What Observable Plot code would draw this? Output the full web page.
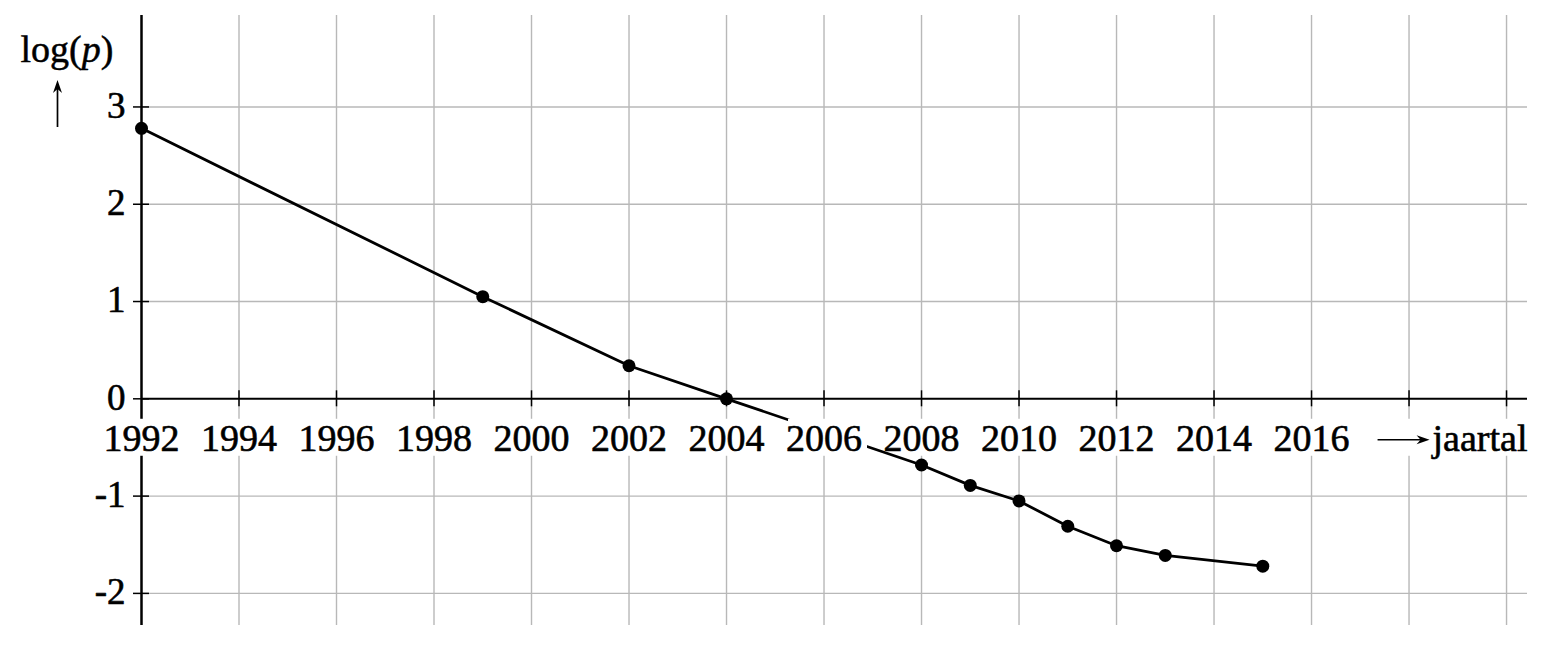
<!DOCTYPE html>
<html>
<head>
<meta charset="utf-8">
<script src="https://cdn.jsdelivr.net/npm/d3@7"></script>
<script src="https://cdn.jsdelivr.net/npm/@observablehq/plot@0.6"></script>
<style>
  html, body { margin: 0; padding: 0; background: #fff; }
  #chart svg { display: block; }
</style>
</head>
<body>
<div id="chart"></div>
<script>
// ---- data ----
const years = [1992, 1999, 2002, 2004, 2008, 2009, 2010, 2011, 2012, 2013, 2015];
const logP  = [2.78, 1.05, 0.34, 0.00, -0.68, -0.89, -1.05, -1.31, -1.51, -1.61, -1.72];

// ---- axis / grid definitions ----
const xGridYears  = [1994, 1996, 1998, 2000, 2002, 2004, 2006, 2008, 2010, 2012, 2014, 2016, 2018, 2020];
const xTickYears  = [1994, 1996, 1998, 2000, 2002, 2004, 2006, 2008, 2010, 2012, 2014, 2016, 2018, 2020];
const xLabelYears = [1992, 1994, 1996, 1998, 2000, 2002, 2004, 2006, 2008, 2010, 2012, 2014, 2016];
const yTicks      = [-2, -1, 0, 1, 2, 3];
const yTickLabels = ["-2", "-1", "0", "1", "2", "3"];
const yGrid       = [-2, -1, 1, 2, 3];
const xDomain     = [1992, 2020.43];
const yDomain     = [-2.33, 3.94];
const yLabel      = "log(p)";
const xLabel      = "jaartal";

const data = years.map((x, i) => ({ x, y: logP[i] }));
const FONT = "'Liberation Serif', 'Times New Roman', Times, serif";
const FS_X = 38;

const plot = Plot.plot({
  width: 1553,
  height: 646,
  marginLeft: 141,
  marginRight: 26,
  marginTop: 15,
  marginBottom: 21,
  x: { domain: xDomain, axis: null },
  y: { domain: yDomain, axis: null },
  style: { fontFamily: FONT, background: "#fff", color: "#000" },
  marks: [
    // grid
    Plot.ruleX(xGridYears, { stroke: "#b8b8b8", strokeWidth: 1.4 }),
    Plot.ruleY(yGrid, { x1: xDomain[0], x2: xDomain[1], stroke: "#b8b8b8", strokeWidth: 1.4 }),
    // axes
    Plot.ruleY([0], { x1: xDomain[0], x2: xDomain[1], stroke: "#000", strokeWidth: 2 }),
    Plot.ruleX([xDomain[0]], { stroke: "#000", strokeWidth: 2.5 }),
    // ticks crossing the axes
    Plot.ruleX(xTickYears, { y1: 0, y2: 0, insetTop: -8, insetBottom: -8, stroke: "#000", strokeWidth: 1.5 }),
    Plot.ruleY(yTicks, { x1: xDomain[0], x2: xDomain[0], insetLeft: -8, insetRight: -8, stroke: "#000", strokeWidth: 1.5 }),
    // data line
    Plot.line(data, { x: "x", y: "y", stroke: "#000", strokeWidth: 2.8 }),
    // x tick labels (white boxes added after render)
    Plot.text(xLabelYears, { x: d => d, y: 0, text: d => String(d), dy: 40, fontSize: FS_X, fill: "#000", stroke: "#000", strokeWidth: 0.6, className: "xlab" }),
    Plot.text([xLabel], { x: xDomain[1], y: 0, text: d => d, textAnchor: "end", dy: 40, fontSize: FS_X, fill: "#000", stroke: "#000", strokeWidth: 0.6, className: "xlab" }),
    // y tick labels
    Plot.text(yTicks, { x: xDomain[0], y: d => d, text: (d, i) => yTickLabels[i], textAnchor: "end", dx: -16, dy: -1, fontSize: 37, fill: "#000", stroke: "#000", strokeWidth: 0.6 }),
    // y axis title
    Plot.text([yLabel], { frameAnchor: "top-left", text: d => d, textAnchor: "start", lineAnchor: "bottom", dx: -121, dy: 46, fontSize: 38, fill: "#000", stroke: "#000", strokeWidth: 0.5, className: "ylab" }),
    // points
    Plot.dot(data, { x: "x", y: "y", r: 6.5, fill: "#000", stroke: "none" })
  ]
});

document.getElementById("chart").appendChild(plot);

// ---- post-render decorations ----
const NS = "http://www.w3.org/2000/svg";
const sr = plot.getBoundingClientRect();
const arrows = [];
const lineGroup = plot.querySelector('g[aria-label="line"]');
const gridCut = document.createElementNS(NS, "g");   // breaks the grid lines behind the labels
lineGroup.parentNode.insertBefore(gridCut, lineGroup);

function addRect(parent, x0, y0, x1, y1) {
  const rect = document.createElementNS(NS, "rect");
  rect.setAttribute("x", x0);
  rect.setAttribute("y", y0);
  rect.setAttribute("width", x1 - x0);
  rect.setAttribute("height", y1 - y0);
  rect.setAttribute("fill", "#fff");
  parent.appendChild(rect);
}

plot.querySelectorAll("g.xlab").forEach(g => {
  const tight = document.createElementNS(NS, "g");  // knocks out the data line behind the glyphs
  g.parentNode.insertBefore(tight, g);
  g.querySelectorAll("text").forEach(t => {
    const r = t.getBoundingClientRect();
    const isTitle = t.textContent === xLabel;
    const baseline = r.bottom - sr.top - 0.216 * FS_X;
    const l = r.left - sr.left, rr = r.right - sr.left;
    addRect(gridCut, l - 3 - (isTitle ? 58 : 0), baseline - 31, rr + 3, baseline + 5);
    addRect(tight, l + 2 - (isTitle ? 58 : 0), baseline - 32, rr + 5, baseline + 0.5);
    if (isTitle) {
      const tipX = l - 1;
      const ay = baseline - 11;
      arrows.push({ x1: tipX - 52, y1: ay, x2: tipX, y2: ay });
    }
  });
});

// italic p in the y title
plot.querySelectorAll("g.ylab text").forEach(t => {
  const s = t.textContent;
  const m = s.match(/^(.*\()(.*)(\).*)$/);
  if (!m) return;
  t.textContent = "";
  [[m[1], false], [m[2], true], [m[3], false]].forEach(([part, it]) => {
    const ts = document.createElementNS(NS, "tspan");
    ts.textContent = part;
    if (it) ts.setAttribute("font-style", "italic");
    t.appendChild(ts);
  });
  const r = t.getBoundingClientRect();
  const ax = r.left - sr.left + 37;
  arrows.push({ x1: ax, y1: 127, x2: ax, y2: 80 });
});

const ag = d3.select(plot).append("g").attr("stroke", "#000").attr("fill", "#000");
arrows.forEach(a => {
  const dx = a.x2 - a.x1, dy = a.y2 - a.y1;
  const len = Math.hypot(dx, dy);
  const ux = dx / len, uy = dy / len;
  const hl = 13, hw = 4.5;
  const bx = a.x2 - ux * hl, by = a.y2 - uy * hl;
  ag.append("line")
    .attr("x1", a.x1).attr("y1", a.y1)
    .attr("x2", a.x2 - ux * 6).attr("y2", a.y2 - uy * 6)
    .attr("stroke-width", 1.7);
  ag.append("path")
    .attr("stroke", "none")
    .attr("d", `M${a.x2},${a.y2}L${bx - uy * hw},${by + ux * hw}L${a.x2 - ux * 9},${a.y2 - uy * 9}L${bx + uy * hw},${by - ux * hw}Z`);
});
</script>
</body>
</html>
